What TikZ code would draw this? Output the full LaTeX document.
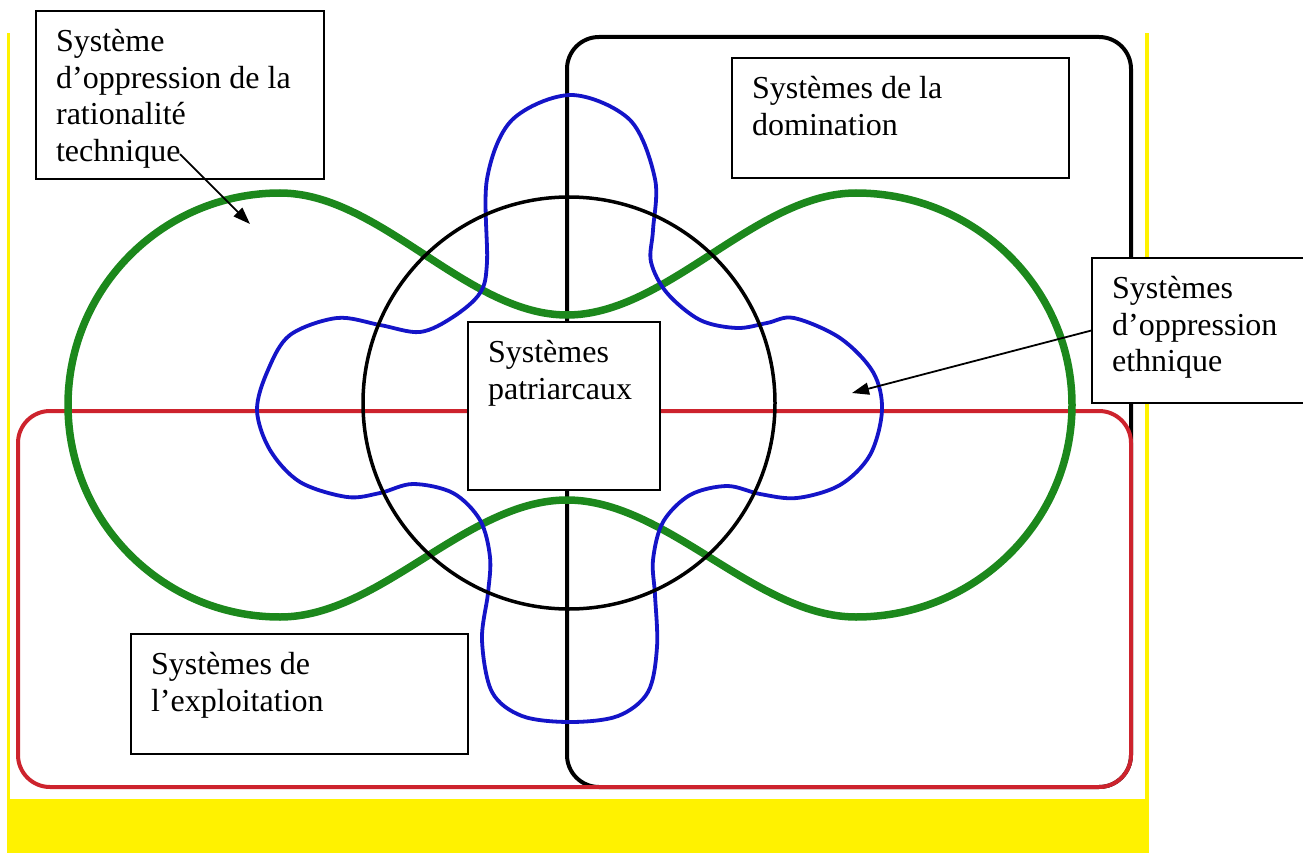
\documentclass[tikz,border=0pt]{standalone}
\usepackage{fontspec}
\setmainfont{Liberation Serif}
\usetikzlibrary{arrows.meta}

\definecolor{vgreen}{RGB}{28,136,28}
\definecolor{vblue}{RGB}{20,20,200}
\definecolor{vred}{RGB}{205,35,45}

\begin{document}
\begin{tikzpicture}[
  x=1pt, y=-1pt,
  font=\fontsize{32}{36.8}\selectfont,
  box/.style={draw, line width=2.2pt, fill=white, anchor=north west, inner xsep=20pt, inner ysep=18pt},
  setframe/.style={line width=4pt, rounded corners=32pt},
  greenline/.style={draw=vgreen, line width=7.5pt},
  blueline/.style={draw=vblue, line width=3.8pt},
  arrow/.style={-{Triangle[length=17pt, width=12pt]}, line width=1.8pt}
]
\useasboundingbox (0,0) rectangle (1303,853);

% ===== Background =====
\fill[yellow] (7,33) rectangle (1149,853);
\fill[white] (10,33) rectangle (1145,799);

% ===== Domination / Exploitation =====
\draw[setframe, black] (567,37) rectangle (1131,787);
\draw[setframe, vred] (18,411) rectangle (1131,787);

% ===== Rationalite technique / ethnique =====
\draw[greenline] (567,315)
  .. controls (467,315) and (380,193) .. (280,193)
  .. controls (163,193) and (68,288) .. (68,405)
  .. controls (68,522) and (163,617) .. (280,617)
  .. controls (380,617) and (467,500) .. (567,500)
  .. controls (667,500) and (756,617) .. (856,617)
  .. controls (975,617) and (1072,522) .. (1072,405)
  .. controls (1072,288) and (975,193) .. (856,193)
  .. controls (756,193) and (667,315) .. (567,315) -- cycle;

\draw[blueline] plot[smooth cycle, tension=0.55] coordinates {
  (571,95) (630,120) (655,179) (653,230) (651,262) (667,293) (700,320)
  (737,328) (767,323) (794,318) (840,338) (873,372) (882,410) (870,455)
  (840,485) (797,498) (760,494) (727,486) (690,495) (663,522) (653,560)
  (655,595) (657,647) (648,692) (618,716) (570,722) (522,716) (492,692)
  (482,640) (488,593) (490,557) (480,520) (453,493) (413,484) (380,493)
  (347,497) (300,482) (270,450) (257,410) (268,370) (290,335) (337,318)
  (380,325) (420,332) (453,317) (480,293) (487,262) (487,179)
  (512,120)};

% ===== Patriarcat =====
\draw[line width=3.5pt] (569,403) circle[radius=206pt];

% ===== Labels =====
\node[box] (rat) at (35,10)
  {\parbox[t][132pt][t]{248pt}{\raggedright Système\\d’oppression de la\\rationalité\\technique}};

\node[box] (dom) at (731,57)
  {\parbox[t][84pt][t]{297pt}{\raggedright Systèmes de la\\domination}};

\node[box] (pat) at (467,321)
  {\parbox[t][132pt][t]{152pt}{\raggedright Systèmes\\patriarcaux}};

\node[box] (eth) at (1091,257)
  {\parbox[t][109pt][t]{200pt}{\raggedright Systèmes\\d’oppression\\ethnique}};

\node[box] (exp) at (130,633)
  {\parbox[t][84pt][t]{297pt}{\raggedright Systèmes de\\l’exploitation}};

% ===== Arrows =====
\coordinate (ratTip) at (250,224);
\coordinate (ethTip) at (852,393);

\draw[arrow] ([xshift=145pt, yshift=26pt]rat.south west) -- (ratTip);
\draw[arrow] (eth.west) -- (ethTip);

\end{tikzpicture}
\end{document}
